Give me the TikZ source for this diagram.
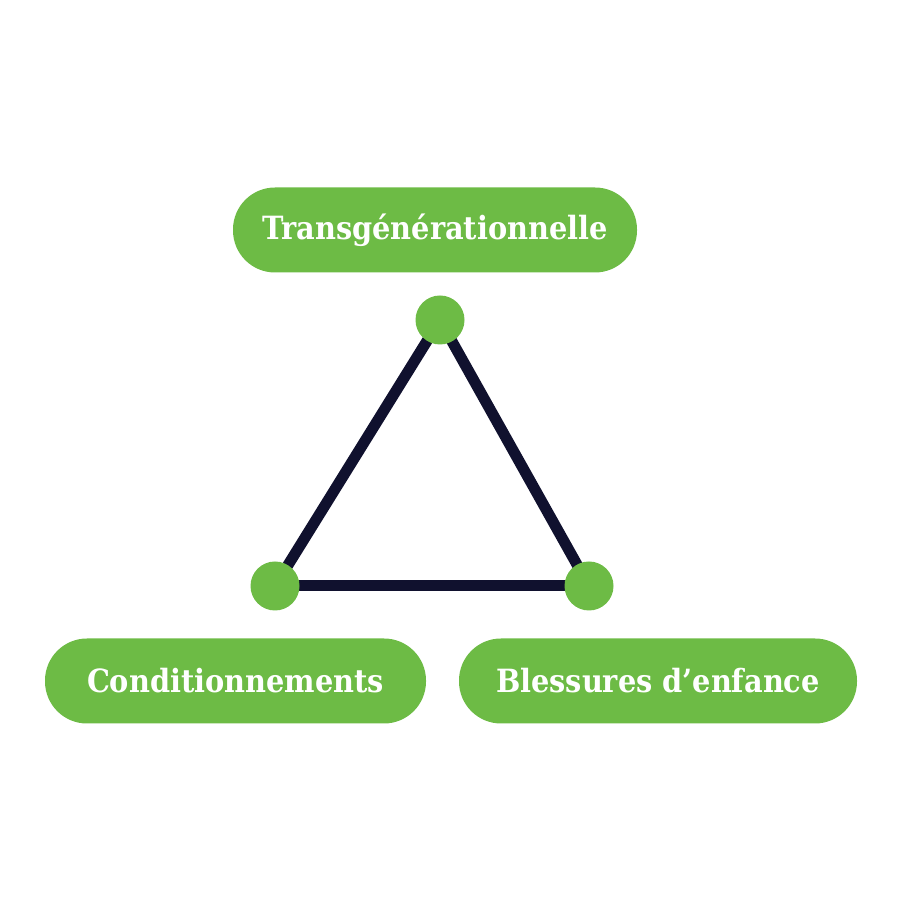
\documentclass[tikz,border=0pt]{standalone}
\usepackage{fontspec}
\newfontfamily\pillfont{DejaVu Serif Condensed}
\usepackage{tikz}
\usetikzlibrary{positioning,backgrounds}
\usepackage{xcolor}
\definecolor{tggreen}{RGB}{109,187,69}
\definecolor{tgnavy}{RGB}{16,17,46}
\tikzstyle{edge} = [line width=11pt, color=tgnavy]
\tikzstyle{corner} = [circle, minimum size=49pt, inner sep=0pt, fill=tggreen]
\tikzstyle{pill} = [rectangle, rounded corners=42pt, minimum height=85pt, inner sep=0pt, text=white, fill=tggreen, font=\pillfont\bfseries\fontsize{32}{36}\selectfont]

\begin{document}
\begin{tikzpicture}[x=1pt, y=1pt]
\useasboundingbox (0,0) rectangle (900,903);
% Triangle corners
\node (top) [corner] at (440,583) {};
\node (left) [corner] at (275,317) {};
\node (right) [corner] at (589,317) {};

% Pills
\node (transgen) [pill, minimum width=404pt] at (435,673) {Transgénérationnelle};
\node (condit) [pill, minimum width=381pt] at (235.5,222) {Conditionnements};
\node (bless) [pill, minimum width=398pt] at (658,222) {Blessures d’enfance};

\begin{scope}[on background layer]
\draw[edge] (top.center) -- (left.center);
\draw[edge] (left.center) -- (right.center);
\draw[edge] (right.center) -- (top.center);
\end{scope}
\end{tikzpicture}
\end{document}
